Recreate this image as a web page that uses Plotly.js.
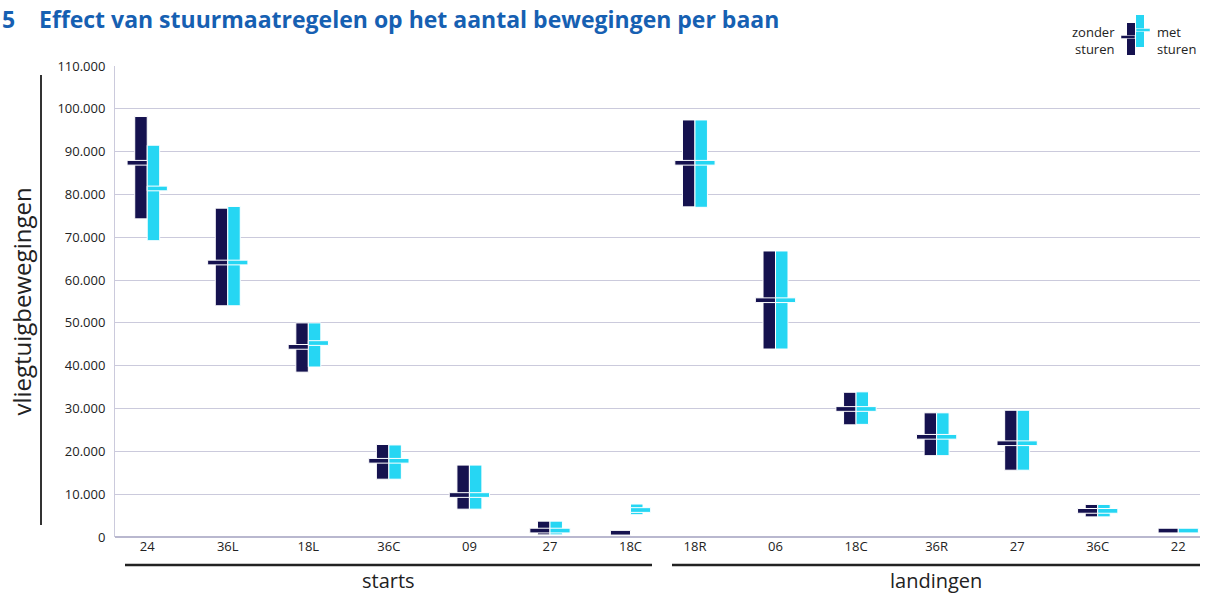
<!DOCTYPE html>
<html>
<head>
<meta charset="utf-8">
<script src="https://cdn.plot.ly/plotly-3.0.1.min.js"></script>
<style>html,body{margin:0;padding:0;background:#fff;}#chart{width:1208px;height:594px;}</style>
</head>
<body>
<div id="chart"></div>
<script>
// ---- data (aantal bewegingen) ----
const startRunways = ['24','36L','18L','36C','09','27','18C'];
const landRunways  = ['18R','06','18C','36R','27','36C','22'];

const zonderMin = [74300, 54000, 38500, 13500,  6500,  500, 1000, 77100, 43900, 26200, 19000, 15600, 4700, 1500];
const zonderMax = [98200, 76800, 50000, 21600, 16800, 3700, 1000, 97400, 66800, 33800, 29000, 29600, 7600, 1500];
const zonderMed = [87400, 64100, 44400, 17800,  9800, 1500, 1000, 87400, 55300, 29900, 23400, 21900, 6100, 1500];

const metMin = [69200, 54000, 39700, 13500,  6500,  500, 5200, 77000, 43900, 26300, 19000, 15600, 4700, 1500];
const metMax = [91500, 77200, 50000, 21500, 16800, 3700, 7700, 97400, 66800, 33900, 29000, 29600, 7600, 1500];
const metMed = [81400, 64100, 45300, 17800,  9800, 1500, 6300, 87400, 55300, 29900, 23400, 21900, 6100, 1500];

const yTickVals = [0,10000,20000,30000,40000,50000,60000,70000,80000,90000,100000,110000];

// ---- layout helpers ----
const DARK = '#15124f', CYAN = '#26d6f3';
const groupGap = 0.8;
const xs = startRunways.map((_, i) => i)
  .concat(landRunways.map((_, j) => startRunways.length - 1 + groupGap + j));
const labels = startRunways.concat(landRunways);
const tickH = 1100;

const L = 115, R = 1200, T = 66, B = 537;
const fx = p => (p - L) / (R - L);
const fy = p => (B - p) / (B - T);

function barTrace(mins, maxs, color, offset, width) {
  return {
    type: 'bar', x: xs, y: maxs.map((v, i) => v - mins[i]), base: mins,
    offset: offset, width: width,
    marker: {color: color, line: {color: '#ffffff', width: 1}},
    hoverinfo: 'skip', showlegend: false
  };
}
function tickTrace(meds, color, offset, width) {
  return {
    type: 'bar', x: xs, y: meds.map(() => tickH), base: meds.map(v => v - tickH / 2),
    offset: offset, width: width,
    marker: {color: color, line: {color: '#ffffff', width: 1}},
    hoverinfo: 'skip', showlegend: false
  };
}

const barW = 0.155, tickW = 0.25;
const data = [
  barTrace(zonderMin, zonderMax, DARK, -barW, barW),
  barTrace(metMin, metMax, CYAN, 0, barW),
  tickTrace(zonderMed, DARK, -tickW, tickW),
  tickTrace(metMed, CYAN, 0, tickW)
];

const txtFont = {family: 'Open Sans, sans-serif', size: 13, color: '#222'};

const layout = {
  width: 1208, height: 594,
  margin: {l: L, r: 1208 - R, t: T, b: 594 - B},
  paper_bgcolor: '#ffffff', plot_bgcolor: '#ffffff',
  barmode: 'overlay',
  separators: ',.',
  showlegend: false,
  xaxis: {
    range: [-0.4, xs[xs.length - 1] + 0.27],
    tickvals: xs, ticktext: labels,
    showgrid: false, zeroline: false, showline: false, ticks: '',
    tickfont: txtFont, fixedrange: true
  },
  yaxis: {
    range: [0, 110000], tickvals: yTickVals, tickformat: ',d',
    showgrid: true, gridcolor: '#cbcadc', gridwidth: 1,
    zeroline: true, zerolinecolor: '#b9b8cf', zerolinewidth: 1.5,
    showline: true, linecolor: '#cbcadc', linewidth: 1,
    ticks: '', ticklabelstandoff: 6,
    tickfont: txtFont,
    title: {text: 'vliegtuigbewegingen', font: {family: 'Open Sans, sans-serif', size: 24, color: '#222'}, standoff: 18},
    fixedrange: true
  },
  shapes: [
    // vertical rule beside y title
    {type: 'line', xref: 'paper', yref: 'paper', x0: fx(41), x1: fx(41), y0: fy(75), y1: fy(525), line: {color: '#333', width: 2}},
    // group rules
    {type: 'line', xref: 'paper', yref: 'paper', x0: fx(125), x1: fx(652), y0: fy(565), y1: fy(565), line: {color: '#222', width: 2.5}},
    {type: 'line', xref: 'paper', yref: 'paper', x0: fx(672), x1: fx(1200), y0: fy(565), y1: fy(565), line: {color: '#222', width: 2.5}},
    // legend glyph
    {type: 'rect', xref: 'paper', yref: 'paper', x0: fx(1127), x1: fx(1135), y0: fy(55), y1: fy(23), fillcolor: DARK, line: {width: 0}},
    {type: 'rect', xref: 'paper', yref: 'paper', x0: fx(1136), x1: fx(1144), y0: fy(47), y1: fy(15), fillcolor: CYAN, line: {width: 0}},
    {type: 'rect', xref: 'paper', yref: 'paper', x0: fx(1121), x1: fx(1135), y0: fy(38.5), y1: fy(35.5), fillcolor: DARK, line: {color: '#fff', width: 0.5}},
    {type: 'rect', xref: 'paper', yref: 'paper', x0: fx(1136), x1: fx(1150), y0: fy(31.5), y1: fy(28.5), fillcolor: CYAN, line: {color: '#fff', width: 0.5}}
  ],
  annotations: [
    {xref: 'paper', yref: 'paper', x: fx(0), y: fy(19), xanchor: 'left', yanchor: 'middle', showarrow: false,
     text: '<b>5</b>', font: {family: 'Open Sans, sans-serif', size: 23, color: '#1660b2'}},
    {xref: 'paper', yref: 'paper', x: fx(37), y: fy(19), xanchor: 'left', yanchor: 'middle', showarrow: false,
     text: '<b>Effect van stuurmaatregelen op het aantal bewegingen per baan</b>', font: {family: 'Open Sans, sans-serif', size: 23, color: '#1660b2'}},
    {xref: 'paper', yref: 'paper', x: fx(388), y: fy(580), xanchor: 'center', yanchor: 'middle', showarrow: false,
     text: 'starts', font: {family: 'Open Sans, sans-serif', size: 20, color: '#222'}},
    {xref: 'paper', yref: 'paper', x: fx(936), y: fy(580), xanchor: 'center', yanchor: 'middle', showarrow: false,
     text: 'landingen', font: {family: 'Open Sans, sans-serif', size: 20, color: '#222'}},
    {xref: 'paper', yref: 'paper', x: fx(1117), y: fy(40), xanchor: 'right', yanchor: 'middle', align: 'right', showarrow: false,
     text: 'zonder<br>sturen', font: txtFont},
    {xref: 'paper', yref: 'paper', x: fx(1155), y: fy(40), xanchor: 'left', yanchor: 'middle', align: 'left', showarrow: false,
     text: 'met<br>sturen', font: txtFont}
  ]
};

Plotly.newPlot('chart', data, layout, {displayModeBar: false, staticPlot: true});
</script>
</body>
</html>
